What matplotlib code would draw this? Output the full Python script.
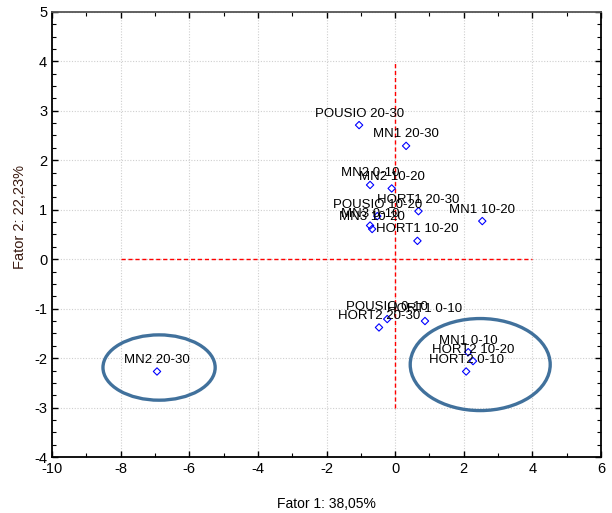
import matplotlib
matplotlib.use("Agg")
import matplotlib.pyplot as plt
from matplotlib.patches import Ellipse
from matplotlib.ticker import MultipleLocator

plt.rcParams['font.family'] = ['Liberation Sans', 'DejaVu Sans']
plt.rcParams['axes.unicode_minus'] = False

# PCA scores (factor 1 vs factor 2)
labels = [
    "POUSIO 20-30", "MN1 20-30", "MN2 0-10", "MN2 10-20", "POUSIO 10-20",
    "HORT1 20-30", "MN1 10-20", "MN3 0-10", "MN3 10-20", "HORT1 10-20",
    "POUSIO 0-10", "HORT1 0-10", "HORT2 20-30",
    "MN1 0-10", "HORT2 10-20", "HORT2 0-10", "MN2 20-30",
]
fator1 = [-1.05, 0.32, -0.73, -0.10, -0.52,
          0.68, 2.54, -0.73, -0.67, 0.65,
          -0.23, 0.87, -0.47,
          2.13, 2.27, 2.07, -6.94]
fator2 = [2.71, 2.29, 1.50, 1.43, 0.87,
          0.97, 0.77, 0.68, 0.61, 0.37,
          -1.21, -1.25, -1.38,
          -1.88, -2.06, -2.27, -2.27]

# Groups circled on the plot: centre x, centre y, width, height
group_cx = [-6.88, 2.48]
group_cy = [-2.19, -2.13]
group_w = [3.27, 4.08]
group_h = [1.32, 1.86]

fig = plt.figure(figsize=(6.12, 5.13), dpi=100)
ax = fig.add_axes([0.085, 0.109, 0.897, 0.868])

ax.set_xlim(-10, 6)
ax.set_ylim(-4, 5)
ax.xaxis.set_major_locator(MultipleLocator(2))
ax.xaxis.set_minor_locator(MultipleLocator(1))
ax.yaxis.set_major_locator(MultipleLocator(1))
ax.yaxis.set_minor_locator(MultipleLocator(0.25))
ax.tick_params(which='both', direction='in', top=True, right=True,
               labelsize=10.5, colors='black')
ax.tick_params(which='major', length=4, width=1)
ax.tick_params(which='minor', length=3, width=0.8)
ax.grid(True, which='major', linestyle=(0, (1, 1.5)), color='#cfcfcf', linewidth=0.8)
ax.set_axisbelow(True)
for side in ['left', 'bottom', 'right']:
    ax.spines[side].set_linewidth(1.3)
    ax.spines[side].set_color('black')
ax.spines['top'].set_linewidth(1.3)
ax.spines['top'].set_color('#555555')

# reference lines through the origin
ax.plot([-8, 4], [0, 0], color='red', linestyle=(0, (3, 2)), linewidth=1, zorder=2)
ax.plot([0, 0], [-3, 4], color='red', linestyle=(0, (3, 2)), linewidth=1, zorder=2)

ax.scatter(fator1, fator2, marker='D', s=14, facecolors='none',
           edgecolors='#0000ff', linewidths=0.8, zorder=3)
for lab, x, y in zip(labels, fator1, fator2):
    ax.annotate(lab, (x, y), xytext=(0, 4), textcoords='offset points',
                ha='center', va='bottom', fontsize=9.5, color='black', zorder=4)

for cx, cy, w, h in zip(group_cx, group_cy, group_w, group_h):
    ax.add_patch(Ellipse((cx, cy), w, h, fill=False, edgecolor='#41719c',
                         linewidth=2.4, zorder=5))

ax.set_xlabel("Fator 1: 38,05%", fontsize=10)
ax.set_ylabel("Fator 2: 22,23%", fontsize=10.5, color='#3a1a10')
ax.xaxis.set_label_coords(0.50, -0.09)
ax.yaxis.set_label_coords(-0.045, 0.54)

fig.savefig("out.png", dpi=100)
